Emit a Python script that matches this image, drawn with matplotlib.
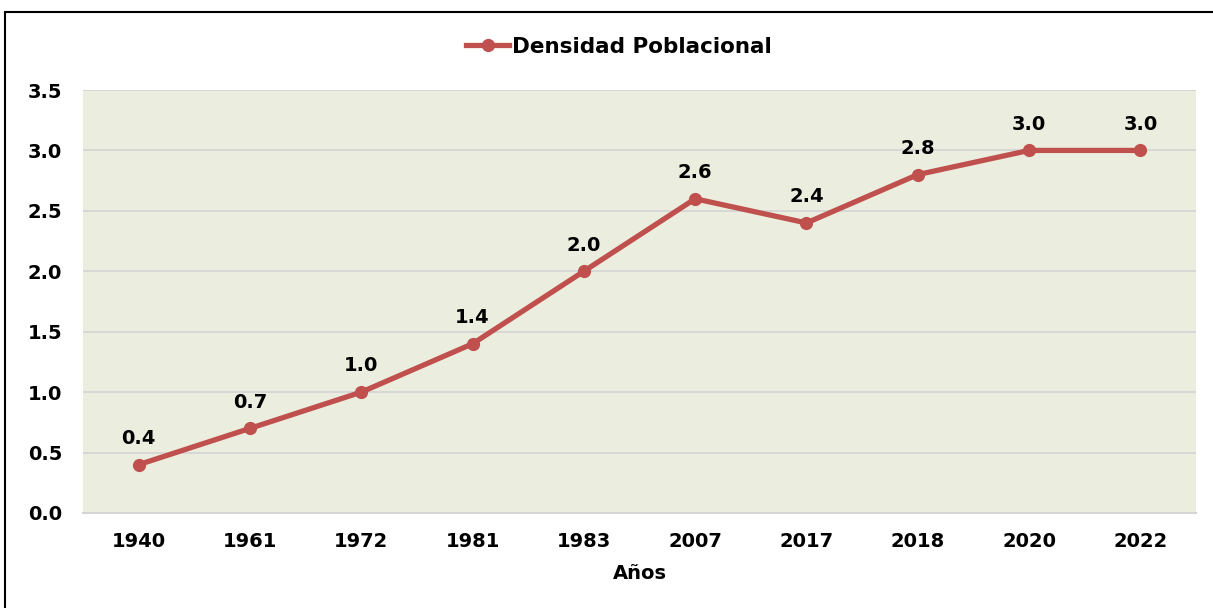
import matplotlib
matplotlib.use("Agg")
import matplotlib.pyplot as plt
from matplotlib.patches import Rectangle

years = ["1940", "1961", "1972", "1981", "1983", "2007", "2017", "2018", "2020", "2022"]
density = [0.4, 0.7, 1.0, 1.4, 2.0, 2.6, 2.4, 2.8, 3.0, 3.0]
yticks = [0.0, 0.5, 1.0, 1.5, 2.0, 2.5, 3.0, 3.5]

plt.rcParams['font.family'] = ['DejaVu Sans']
plt.rcParams['font.weight'] = 'bold'

W, H = 1213, 608
fig = plt.figure(figsize=(W / 100, H / 100), dpi=100)
fig.patch.set_facecolor('white')

# outer frame
fig.patches.append(Rectangle((5 / W, -0.1), 1.2, (H - 12) / H + 0.1, transform=fig.transFigure,
                             fill=False, edgecolor='black', linewidth=1.5))

ax = fig.add_axes([83 / W, (H - 513) / H, (1196 - 83) / W, (513 - 90) / H])
ax.set_facecolor('#EBEEDE')
color = '#C0504D'
x = list(range(len(years)))
line, = ax.plot(x, density, color=color, linewidth=3.8, marker='o', markersize=8.5,
                label='Densidad Poblacional', zorder=3)
for xi, v in zip(x, density):
    ax.annotate(f"{v:.1f}", (xi, v), xytext=(0, 12), textcoords='offset points',
                ha='center', va='bottom', fontsize=14, fontweight='bold', color='black')

ax.set_xlim(-0.5, len(years) - 0.5)
ax.set_ylim(0, 3.5)
ax.set_yticks(yticks)
ax.set_yticklabels([f"{t:.1f}" for t in yticks], fontsize=14, fontweight='bold')
ax.set_xticks(x)
ax.set_xticklabels(years, fontsize=14, fontweight='bold')
ax.tick_params(axis='x', length=0, pad=14)
ax.tick_params(axis='y', length=0, pad=15)
ax.grid(axis='y', color='#D4D4D4', linewidth=1.2)
ax.set_axisbelow(True)
for s in ['top', 'right', 'left']:
    ax.spines[s].set_visible(False)
ax.spines['bottom'].set_color('#D4D4D4')
ax.spines['bottom'].set_linewidth(1.5)
ax.set_xlabel('Años', fontsize=14, fontweight='bold', labelpad=9)

fig.legend(handles=[line], loc='center', bbox_to_anchor=(619 / W, 1 - 47 / H),
           frameon=False, handlelength=2.0, handletextpad=0.15,
           prop={'weight': 'bold', 'size': 15.5})

fig.savefig('out.png', dpi=100)
